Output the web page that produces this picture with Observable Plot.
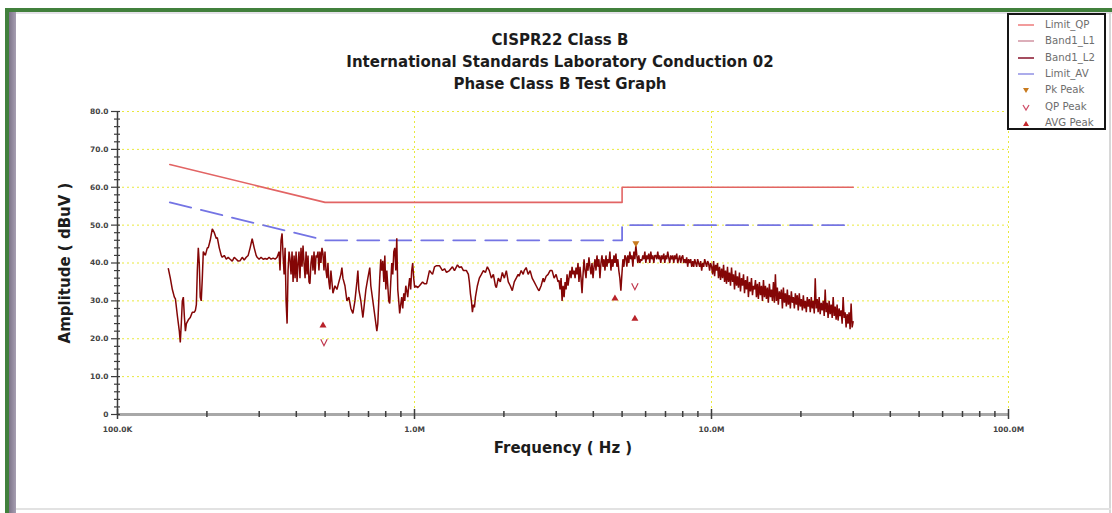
<!DOCTYPE html>
<html>
<head>
<meta charset="utf-8">
<script src="https://cdn.jsdelivr.net/npm/d3@7"></script>
<script src="https://cdn.jsdelivr.net/npm/@observablehq/plot@0.6"></script>
<style>
  html, body { margin: 0; padding: 0; background: #fff; }
  #page { position: relative; width: 1112px; height: 513px; overflow: hidden; background: #fff; font-family: "DejaVu Sans", Verdana, sans-serif; }
  .edge { position: absolute; }
  #chart { position: absolute; left: 0; top: 0; }
  #title { position: absolute; left: 0; top: 29px; width: 1120px; text-align: center; font-weight: bold; font-size: 15px; line-height: 22px; color: #1c1c1c; }
  #legend { position: absolute; left: 1007px; top: 13px; width: 95px; height: 113px; border: 2px solid #151515; background: #fff; }
  .lg-row { position: absolute; left: 0; height: 16px; width: 95px; white-space: nowrap; font-size: 10.2px; color: #6e6e6e; }
  .lg-row svg { position: absolute; left: 4px; top: 0; }
  .lg-row span { position: absolute; left: 36px; top: 0; line-height: 16px; }
</style>
</head>
<body>
<div id="page">
  <div class="edge" style="left:5px;top:8px;width:1107px;height:4px;background:#41803c"></div>
  <div class="edge" style="left:9px;top:12px;width:1103px;height:2px;background:#e4e2e8"></div>
  <div class="edge" style="left:5px;top:8px;width:4px;height:505px;background:#41803c"></div>
  <div class="edge" style="left:9px;top:12px;width:7px;height:501px;background:linear-gradient(to right,#7d7489,#a79fb2)"></div>
  <div class="edge" style="left:1109px;top:12px;width:2px;height:501px;background:#d8d8d8"></div>
  <div class="edge" style="left:16px;top:508px;width:1095px;height:2px;background:#e2e2e2"></div>
  <div id="chart"></div>
  <div id="title">CISPR22 Class B<br>International Standards Laboratory Conduction 02<br>Phase Class B Test Graph</div>
  <div id="legend"></div>
</div>
<script>
// Axis ticks and labels
const yMajor = [0, 10, 20, 30, 40, 50, 60, 70, 80];
const yTickLabels = ["0", "10.0", "20.0", "30.0", "40.0", "50.0", "60.0", "70.0", "80.0"];
const yMinor = [2, 4, 6, 8, 12, 14, 16, 18, 22, 24, 26, 28, 32, 34, 36, 38, 42, 44, 46, 48, 52, 54, 56, 58, 62, 64, 66, 68, 72, 74, 76, 78];
const xMajor = [0.1, 1, 10, 100];
const xTickLabels = ["100.0K", "1.0M", "10.0M", "100.0M"];
const xMinor = [0.2, 0.3, 0.4, 0.5, 0.6, 0.7, 0.8, 0.9, 2, 3, 4, 5, 6, 7, 8, 9, 20, 30, 40, 50, 60, 70, 80, 90];
const xGrid = [1, 10, 100];
const yGrid = [10, 20, 30, 40, 50, 60, 70, 80];

// CISPR 22 Class B conducted limits (MHz, dBuV)
const limitFreq = [0.15, 0.5, 5, 5, 30];
const limitQP = [66, 56, 56, 60, 60];
const limitAV = [56, 46, 46, 50, 50];

// Band 1 scan: [frequency MHz, level dBuV]
const band1 = [
  [0.1483,38.5],[0.1506,36],[0.1530,33],[0.1554,31],[0.1567,30.5],[0.1591,26],[0.1615,22],[0.1627,19],[0.1640,24],[0.1653,30],
  [0.1666,31],[0.1679,26],[0.1693,22],[0.1706,24],[0.1732,25],[0.1758,25.6],[0.1786,27],[0.1814,27],[0.1829,27.5],[0.1843,29],
  [0.1857,38],[0.1871,44],[0.1885,40],[0.1899,31],[0.1914,30],[0.1930,36],[0.1945,43],[0.1976,42],[0.2006,44],[0.2021,44],
  [0.2052,46],[0.2085,49],[0.2118,48],[0.2151,46.5],[0.2168,46.7],[0.2201,44],[0.2235,42],[0.2253,41.5],[0.2288,42],[0.2324,41],
  [0.2359,41.5],[0.2395,41],[0.2434,40.5],[0.2472,41.5],[0.2511,41],[0.2549,40.5],[0.2588,40.6],[0.2630,41.5],[0.2671,40.8],[0.2713,41.5],
  [0.2754,42],[0.2796,44],[0.2841,46.4],[0.2886,44],[0.2930,42],[0.2953,41.5],[0.2998,41],[0.3044,41.5],[0.3093,41],[0.3142,41.2],
  [0.3190,41],[0.3239,41.5],[0.3289,41],[0.3342,41.3],[0.3394,41],[0.3446,41.5],[0.3499,43],[0.3525,38],[0.3553,46],[0.3582,47.8],
  [0.3610,42],[0.3639,37],[0.3667,44],[0.3695,30],[0.3724,24],[0.3752,38],[0.3781,43],[0.3809,41],[0.3840,37],[0.3870,43],
  [0.3901,35],[0.3931,42],[0.3962,36],[0.3993,43],[0.4023,35],[0.4054,40],[0.4084,43],[0.4115,36],[0.4148,44],[0.4181,39],
  [0.4214,44.6],[0.4247,40],[0.4281,36],[0.4314,43],[0.4347,37],[0.4380,42],[0.4413,35],[0.4446,34.5],[0.4482,40],[0.4517,42],
  [0.4553,38],[0.4589,43],[0.4625,37],[0.4660,42],[0.4696,41.5],[0.4732,43],[0.4767,38],[0.4803,43],[0.4842,40],[0.4880,44],
  [0.4919,42.5],[0.4957,38],[0.4996,43],[0.5035,38],[0.5073,36],[0.5112,40],[0.5150,35],[0.5189,33],[0.5231,38],[0.5314,32],
  [0.5398,34],[0.5481,33],[0.5564,35],[0.5651,37],[0.5696,38.8],[0.5741,36],[0.5832,34],[0.5922,30],[0.6012,31],[0.6106,28],
  [0.6203,26.7],[0.6301,30],[0.6398,35],[0.6447,38],[0.6495,33],[0.6597,30],[0.6702,25.6],[0.6754,28],[0.6860,33],[0.6965,36],
  [0.7070,38.8],[0.7127,34],[0.7240,30],[0.7354,26],[0.7468,22],[0.7524,24],[0.7581,30],[0.7638,36],[0.7699,41],[0.7761,38],
  [0.7822,40.6],[0.7884,35],[0.7945,42],[0.8006,33],[0.8068,38],[0.8129,34],[0.8191,30],[0.8252,29.3],[0.8318,35],[0.8385,40],
  [0.8451,37],[0.8517,43],[0.8584,44],[0.8650,38],[0.8716,46.5],[0.8783,33],[0.8849,30],[0.8915,26.7],[0.8987,29],[0.9058,31],
  [0.9130,28],[0.9202,32],[0.9274,30],[0.9345,34],[0.9417,32.7],[0.9489,31],[0.9560,34],[0.9632,36],[0.9708,33],[0.9784,38],
  [0.9861,40],[0.9937,36],[1.0013,33.5],[1.0089,34],[1.0242,33.5],[1.0394,34],[1.0645,35],[1.0812,34.5],[1.0979,34.5],[1.1230,38],
  [1.1501,37],[1.1682,39],[1.1862,39.3],[1.2133,39.3],[1.2426,38],[1.2621,38.5],[1.2816,37.5],
  [1.3108,38],[1.3424,39],[1.3635,38],[1.3951,39.5],[1.4162,38.8],[1.4390,39],[1.4617,38],[1.4959,38],[1.5186,37],[1.5300,35],
  [1.5423,32],[1.5546,30],[1.5669,27],[1.5792,29],[1.5915,28.3],[1.6038,31],[1.6284,34],[1.6530,36],[1.6796,37],[1.7062,38],
  [1.7327,37.5],[1.7593,39],[1.7859,38],[1.8146,36],[1.8433,37],[1.8721,34],[1.8864,33.5],[1.9151,36],[1.9450,35],[1.9760,37.5],
  [2.0071,36],[2.0381,38],[2.0691,35],[2.1012,34],[2.1344,32.7],[2.1676,35],[2.2008,36],[2.2339,37],[2.2505,36.5],[2.2867,38],
  [2.3229,37],[2.3410,38],[2.3771,38.8],[2.4133,37],[2.4509,38],[2.4900,36],[2.5291,35],[2.5682,34],[2.6073,33],[2.6268,32.7],
  [2.6690,34],[2.7113,36],[2.7324,35],[2.7746,36.5],[2.8169,37],[2.8608,38],[2.9064,38],[2.9521,36],[2.9977,37],[3.0433,35],
  [3.0661,35.4],[3.0908,33],[3.1154,36],[3.1401,30],[3.1647,34],[3.1894,31],[3.2140,35],[3.2387,33],[3.2633,37],[3.2880,34],
  [3.3126,36],[3.3392,38],[3.3659,36],[3.3925,39],[3.4191,37],[3.4458,38],[3.4724,36],[3.4990,38.8],[3.5256,37],[3.5523,40],
  [3.5789,35],[3.6077,39],[3.6364,36],[3.6652,32],[3.6940,37],[3.7228,41],[3.7515,38],[3.7803,36],[3.8091,40],[3.8378,38],
  [3.8666,41.5],[3.8977,39],[3.9288,37],[3.9598,40],[3.9909,36],[4.0220,39],[4.0531,41],[4.0842,38],[4.1153,42],[4.1463,39],
  [4.1774,41],[4.2110,36],[4.2446,40],[4.2781,42],[4.3117,39],[4.3453,41],[4.3789,38],[4.4125,42],[4.4460,39],[4.4796,41],
  [4.5132,40],[4.5494,43],[4.5855,38],[4.6217,41],[4.6578,39],[4.6940,42],[4.7301,40],[4.7663,42.5],[4.8024,39],[4.8386,41],
  [4.8747,38],[4.9139,36],[4.9531,32.7],[4.9923,37],[5.0315,41],[5.0707,39],[5.1098,42],[5.1490,41.5],[5.1882,39],[5.2274,42],
  [5.2666,40],[5.3089,43],[5.3513,41],[5.3936,42],[5.4360,39],[5.4783,43],[5.5206,41],[5.5630,44.6],[5.6053,42],[5.6477,40],
  [5.6900,42],[5.7357,40],[5.7815,41],[5.8272,40.6],[5.8730,42],[5.9187,41],[5.9644,43],[6.0102,40],[6.0559,42],[6.1017,41],
  [6.1474,42.5],[6.1968,40],[6.2462,43],[6.2956,41],[6.3450,42],[6.3945,40],[6.4439,42],[6.4933,42],[6.5427,41],[6.5921,43],
  [6.6415,41],[6.6949,42],[6.7483,40],[6.8017,42],[6.8551,41],[6.9085,42.5],[6.9618,40],[7.0152,42],[7.0686,41],[7.1220,43],
  [7.1754,41.5],[7.2331,40],[7.2908,42],[7.3484,41],[7.4061,42],[7.4638,40],[7.5215,42],[7.5792,41],[7.6369,42.5],[7.6945,40],
  [7.7522,41],[7.8145,42],[7.8768,40],[7.9392,41.5],[8.0015,42],[8.0638,40],[8.1261,41],[8.1884,40],[8.2507,41.5],[8.3131,39],
  [8.3754,41],[8.4427,40],[8.5100,41],[8.5774,39],[8.6447,40.5],[8.7120,39],[8.7793,41],[8.8466,40],[8.9140,39],[8.9813,41],
  [9.0486,40],[9.1213,39],[9.1941,40.5],[9.2668,38],[9.3396,40],[9.4123,39],[9.4850,41],[9.5578,40],[9.6305,39],[9.7033,40.5],
  [9.7760,40],[9.854,38],[9.932,40],
  [10.010,39],[10.088,37],[10.166,40.5],[10.244,36.5],[10.322,39.5],[10.400,38],[10.478,40],[10.556,36],[10.641,39],[10.726,35.5],
  [10.811,38.5],[10.896,36],[10.981,39.5],[11.065,35],[11.150,38],[11.235,34.5],[11.320,39],[11.405,35],[11.497,37.5],[11.588,34],
  [11.680,38.8],[11.771,35],[11.863,37],[11.955,33],[12.046,38],[12.138,34],[12.229,36.5],[12.321,33.5],[12.420,37.5],[12.519,32.5],
  [12.618,36],[12.717,34],[12.817,37],[12.916,32],[13.015,35.5],[13.114,33],[13.213,36.5],[13.312,31],[13.419,35],[13.526,32.5],
  [13.633,36],[13.740,31.5],[13.847,34],[13.954,33],[14.061,35.5],[14.168,31],[14.275,34.5],[14.382,30.5],[14.498,35],[14.613,31.5],
  [14.729,34],[14.844,30],[14.960,35.5],[15.076,31],[15.191,34],[15.307,30.5],[15.422,33.5],[15.538,29.5],[15.663,34.5],[15.788,31],
  [15.913,33],[16.038,30],[16.163,35],[16.287,29.5],[16.412,37],[16.537,30],[16.662,33.5],[16.787,29],[16.922,32.5],[17.057,30.5],
  [17.192,33],[17.327,28],[17.462,33.5],[17.597,29.5],[17.732,32],[17.867,28.5],[18.002,33],[18.137,29],[18.283,31.5],[18.429,28],
  [18.574,32.5],[18.720,29.5],[18.866,31],[19.012,28],[19.158,32],[19.303,29],[19.449,31.5],[19.595,27.5],[19.753,32],[19.910,28.5],
  [20.068,30.5],[20.225,27.5],[20.383,31.5],[20.540,28],[20.698,30],[20.855,27],[21.013,31],[21.170,28.5],[21.339,30.5],[21.507,27],
  [21.676,31],[21.844,28],[22.013,30],[22.182,26.7],[22.350,36],[22.519,28],[22.687,30.5],[22.856,27],[23.040,31],[23.223,26.5],
  [23.407,29.5],[23.591,27.5],[23.775,30],[23.958,26],[24.142,33],[24.326,27],[24.509,29.5],[24.693,25.5],[24.892,30],[25.090,26.5],
  [25.289,29],[25.487,25.5],[25.686,31],[25.884,26],[26.083,28.5],[26.281,25],[26.480,29],[26.678,24.8],[26.893,28],[27.107,26],
  [27.322,27.5],[27.536,24],[27.751,31],[27.965,25.5],[28.180,27],[28.394,23],[28.609,26.5],[28.823,24],[29.055,27],[29.286,22.5],
  [29.518,29.3],[29.750,23],[29.982,24.5]
];

// Final measurement markers (MHz, dBuV)
const pkPeakFreq = [5.563];
const pkPeakLevel = [45.2];
const qpPeakFreq = [0.4957, 5.521];
const qpPeakLevel = [19.0, 33.8];
const avgPeakFreq = [0.4919, 4.730, 5.521];
const avgPeakLevel = [23.5, 30.6, 25.3];

// Legend entries
const legendNames = ["Limit_QP", "Band1_L1", "Band1_L2", "Limit_AV", "Pk Peak", "QP Peak", "AVG Peak"];
const legendColors = ["#ef8383", "#d49aa8", "#8e2038", "#9898e6", "#c87a1e", "#d0506a", "#c4282d"];
const legendKinds = ["line", "line", "line", "line", "down", "vee", "up"];

const zip = (xs, ys) => xs.map((x, i) => ({f: x, dB: ys[i]}));
const qpLine = zip(limitFreq, limitQP);
const avLine = zip(limitFreq, limitAV);
const pkDots = zip(pkPeakFreq, pkPeakLevel);
const qpDots = zip(qpPeakFreq, qpPeakLevel);
const avgDots = zip(avgPeakFreq, avgPeakLevel);

// open "v" marker for quasi-peak results
const veeSymbol = {
  draw(ctx, size) {
    const s = Math.sqrt(size) * 0.7;
    ctx.moveTo(-s, -s);
    ctx.lineTo(0, s);
    ctx.lineTo(s, -s);
  }
};

const yLabelOf = new Map(yMajor.map((v, i) => [v, yTickLabels[i]]));
const xLabelOf = new Map(xMajor.map((v, i) => [v, xTickLabels[i]]));
const gridColor = "#e9e93c";
const tickColor = "#3d3d3d";

const chart = Plot.plot({
  width: 1112,
  height: 513,
  marginLeft: 117,
  marginRight: 104,
  marginTop: 111,
  marginBottom: 99,
  x: {type: "log", domain: [0.1, 100]},
  y: {domain: [0, 80]},
  style: {background: "transparent", fontFamily: "DejaVu Sans, Verdana, sans-serif", overflow: "visible"},
  marks: [
    Plot.ruleY(yGrid, {stroke: gridColor, strokeDasharray: "2,3", strokeWidth: 1}),
    Plot.ruleX(xGrid, {stroke: gridColor, strokeDasharray: "2,3", strokeWidth: 1}),
    Plot.ruleY([0], {stroke: "#a8a8a8", strokeWidth: 3}),
    Plot.ruleX([0.1], {stroke: tickColor, strokeWidth: 1.5}),
    Plot.line(qpLine, {x: "f", y: "dB", stroke: "#e26464", strokeWidth: 1.6}),
    Plot.line(avLine, {x: "f", y: "dB", stroke: "#7474e4", strokeWidth: 1.8, strokeDasharray: "22,10"}),
    Plot.line(band1, {x: d => d[0], y: d => d[1], stroke: "#840606", strokeWidth: 1.5, strokeLinejoin: "miter"}),
    Plot.dot(pkDots, {x: "f", y: "dB", symbol: "triangle", rotate: 180, r: 2.6, fill: "#c87a1e", stroke: "none"}),
    Plot.dot(qpDots, {x: "f", y: "dB", symbol: veeSymbol, r: 2.6, fill: "none", stroke: "#c0384e", strokeWidth: 1.2}),
    Plot.dot(avgDots, {x: "f", y: "dB", symbol: "triangle", r: 2.6, fill: "#b8222a", stroke: "none"}),
    // y axis: ticks crossing the axis line, then labels
    Plot.axisY(yMajor, {tickSize: 9, dx: 3, fill: "none", stroke: tickColor, strokeWidth: 1.2, label: null}),
    Plot.axisY(yMinor, {tickSize: 6, dx: 3, fill: "none", stroke: tickColor, strokeWidth: 1.2, label: null}),
    Plot.axisY(yMajor, {tickSize: 0, tickPadding: 9, tickFormat: d => yLabelOf.get(d), fontSize: 7.5, fontWeight: "bold", fill: "#444", label: null}),
    // x axis
    Plot.axisX(xMajor, {tickSize: 10, dy: -5, fill: "none", stroke: tickColor, strokeWidth: 1.5, label: null}),
    Plot.axisX(xMinor, {tickSize: 6, dy: -3, fill: "none", stroke: tickColor, strokeWidth: 1.5, label: null}),
    Plot.axisX(xMajor, {tickSize: 0, tickPadding: 12, tickFormat: d => xLabelOf.get(d), fontSize: 7.5, fontWeight: "bold", fill: "#444", label: null}),
    // axis titles
    Plot.text(["Amplitude ( dBuV )"], {text: d => d, frameAnchor: "left", dx: -52, rotate: -90, textAnchor: "middle", fontSize: 15, fontWeight: "bold", fill: "#1c1c1c"}),
    Plot.text(["Frequency ( Hz )"], {text: d => d, frameAnchor: "bottom", dy: 38, textAnchor: "middle", fontSize: 15, fontWeight: "bold", fill: "#1c1c1c"})
  ]
});
document.getElementById("chart").appendChild(chart);

// legend box
const legend = document.getElementById("legend");
legendNames.forEach((name, i) => {
  const row = document.createElement("div");
  row.className = "lg-row";
  row.style.top = (2 + i * 16.3) + "px";
  const c = legendColors[i];
  let glyph;
  if (legendKinds[i] === "line") glyph = `<line x1="5" y1="8" x2="21" y2="8" stroke="${c}" stroke-width="1.6"/>`;
  else if (legendKinds[i] === "down") glyph = `<path d="M10,6 L16,6 L13,11 Z" fill="${c}"/>`;
  else if (legendKinds[i] === "up") glyph = `<path d="M10,11 L16,11 L13,6 Z" fill="${c}"/>`;
  else glyph = `<path d="M10,6 L13,11 L16,6" fill="none" stroke="${c}" stroke-width="1.3"/>`;
  row.innerHTML = `<svg width="28" height="16">${glyph}</svg><span>${name}</span>`;
  legend.appendChild(row);
});
</script>
</body>
</html>
